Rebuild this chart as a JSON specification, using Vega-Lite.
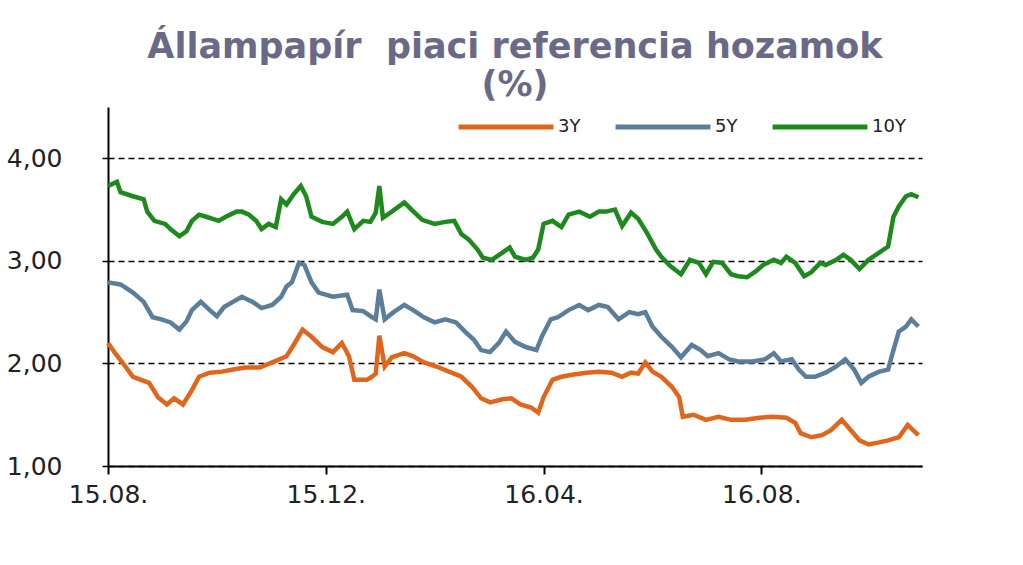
{
"$schema": "https://vega.github.io/schema/vega-lite/v6.json",
"width": 814, "height": 359,
"autosize": "none",
"padding": {"left": 108, "top": 107, "right": 101, "bottom": 99},
"background": "white",
"title": {"text": ["Állampapír\u00a0 piaci referencia hozamok", "(%)"], "font": "DejaVu Sans", "fontSize": 35, "fontWeight": "bold", "color": "#6a6a88", "anchor": "middle", "lineHeight": 38, "offset": 7, "dy": 33},
"config": {"view": {"stroke": null}},
"data": {"values": [
{"d":"2015-08-01","s":"10Y","v":3.73},{"d":"2015-08-06","s":"10Y","v":3.77},{"d":"2015-08-08","s":"10Y","v":3.67},{"d":"2015-08-15","s":"10Y","v":3.63},{"d":"2015-08-21","s":"10Y","v":3.60},{"d":"2015-08-23","s":"10Y","v":3.48},{"d":"2015-08-27","s":"10Y","v":3.39},{"d":"2015-09-02","s":"10Y","v":3.36},{"d":"2015-09-05","s":"10Y","v":3.31},{"d":"2015-09-10","s":"10Y","v":3.24},{"d":"2015-09-14","s":"10Y","v":3.29},{"d":"2015-09-17","s":"10Y","v":3.39},{"d":"2015-09-21","s":"10Y","v":3.45},{"d":"2015-09-25","s":"10Y","v":3.43},{"d":"2015-10-02","s":"10Y","v":3.39},{"d":"2015-10-06","s":"10Y","v":3.43},{"d":"2015-10-12","s":"10Y","v":3.48},{"d":"2015-10-15","s":"10Y","v":3.48},{"d":"2015-10-19","s":"10Y","v":3.45},{"d":"2015-10-23","s":"10Y","v":3.39},{"d":"2015-10-26","s":"10Y","v":3.31},{"d":"2015-10-30","s":"10Y","v":3.36},{"d":"2015-11-03","s":"10Y","v":3.33},{"d":"2015-11-06","s":"10Y","v":3.60},{"d":"2015-11-09","s":"10Y","v":3.55},{"d":"2015-11-13","s":"10Y","v":3.65},{"d":"2015-11-17","s":"10Y","v":3.73},{"d":"2015-11-20","s":"10Y","v":3.63},{"d":"2015-11-23","s":"10Y","v":3.43},{"d":"2015-11-29","s":"10Y","v":3.38},{"d":"2015-12-05","s":"10Y","v":3.36},{"d":"2015-12-10","s":"10Y","v":3.43},{"d":"2015-12-13","s":"10Y","v":3.48},{"d":"2015-12-17","s":"10Y","v":3.31},{"d":"2015-12-22","s":"10Y","v":3.39},{"d":"2015-12-26","s":"10Y","v":3.38},{"d":"2015-12-29","s":"10Y","v":3.47},{"d":"2015-12-31","s":"10Y","v":3.73},{"d":"2016-01-02","s":"10Y","v":3.42},{"d":"2016-01-07","s":"10Y","v":3.48},{"d":"2016-01-14","s":"10Y","v":3.57},{"d":"2016-01-18","s":"10Y","v":3.50},{"d":"2016-01-24","s":"10Y","v":3.40},{"d":"2016-01-31","s":"10Y","v":3.36},{"d":"2016-02-06","s":"10Y","v":3.38},{"d":"2016-02-11","s":"10Y","v":3.39},{"d":"2016-02-15","s":"10Y","v":3.26},{"d":"2016-02-19","s":"10Y","v":3.21},{"d":"2016-02-24","s":"10Y","v":3.11},{"d":"2016-02-27","s":"10Y","v":3.03},{"d":"2016-03-03","s":"10Y","v":3.01},{"d":"2016-03-09","s":"10Y","v":3.08},{"d":"2016-03-13","s":"10Y","v":3.13},{"d":"2016-03-16","s":"10Y","v":3.04},{"d":"2016-03-22","s":"10Y","v":3.01},{"d":"2016-03-26","s":"10Y","v":3.03},{"d":"2016-03-29","s":"10Y","v":3.11},{"d":"2016-04-01","s":"10Y","v":3.36},{"d":"2016-04-06","s":"10Y","v":3.39},{"d":"2016-04-11","s":"10Y","v":3.33},{"d":"2016-04-15","s":"10Y","v":3.45},{"d":"2016-04-21","s":"10Y","v":3.48},{"d":"2016-04-27","s":"10Y","v":3.43},{"d":"2016-05-02","s":"10Y","v":3.48},{"d":"2016-05-06","s":"10Y","v":3.48},{"d":"2016-05-11","s":"10Y","v":3.50},{"d":"2016-05-15","s":"10Y","v":3.34},{"d":"2016-05-20","s":"10Y","v":3.47},{"d":"2016-05-24","s":"10Y","v":3.41},{"d":"2016-05-29","s":"10Y","v":3.27},{"d":"2016-06-03","s":"10Y","v":3.11},{"d":"2016-06-06","s":"10Y","v":3.04},{"d":"2016-06-11","s":"10Y","v":2.95},{"d":"2016-06-17","s":"10Y","v":2.87},{"d":"2016-06-22","s":"10Y","v":3.01},{"d":"2016-06-27","s":"10Y","v":2.98},{"d":"2016-07-01","s":"10Y","v":2.87},{"d":"2016-07-05","s":"10Y","v":2.99},{"d":"2016-07-10","s":"10Y","v":2.98},{"d":"2016-07-15","s":"10Y","v":2.87},{"d":"2016-07-19","s":"10Y","v":2.85},{"d":"2016-07-24","s":"10Y","v":2.84},{"d":"2016-07-29","s":"10Y","v":2.90},{"d":"2016-08-02","s":"10Y","v":2.96},{"d":"2016-08-08","s":"10Y","v":3.01},{"d":"2016-08-12","s":"10Y","v":2.98},{"d":"2016-08-15","s":"10Y","v":3.04},{"d":"2016-08-20","s":"10Y","v":2.98},{"d":"2016-08-25","s":"10Y","v":2.85},{"d":"2016-08-29","s":"10Y","v":2.89},{"d":"2016-09-03","s":"10Y","v":2.98},{"d":"2016-09-06","s":"10Y","v":2.96},{"d":"2016-09-12","s":"10Y","v":3.01},{"d":"2016-09-16","s":"10Y","v":3.06},{"d":"2016-09-20","s":"10Y","v":3.01},{"d":"2016-09-25","s":"10Y","v":2.92},{"d":"2016-09-30","s":"10Y","v":3.01},{"d":"2016-10-06","s":"10Y","v":3.08},{"d":"2016-10-11","s":"10Y","v":3.14},{"d":"2016-10-14","s":"10Y","v":3.43},{"d":"2016-10-17","s":"10Y","v":3.53},{"d":"2016-10-21","s":"10Y","v":3.63},{"d":"2016-10-24","s":"10Y","v":3.65},{"d":"2016-10-28","s":"10Y","v":3.62},
{"d":"2015-08-01","s":"5Y","v":2.79},{"d":"2015-08-08","s":"5Y","v":2.77},{"d":"2015-08-15","s":"5Y","v":2.69},{"d":"2015-08-21","s":"5Y","v":2.60},{"d":"2015-08-26","s":"5Y","v":2.45},{"d":"2015-08-31","s":"5Y","v":2.43},{"d":"2015-09-05","s":"5Y","v":2.40},{"d":"2015-09-10","s":"5Y","v":2.33},{"d":"2015-09-14","s":"5Y","v":2.41},{"d":"2015-09-17","s":"5Y","v":2.52},{"d":"2015-09-22","s":"5Y","v":2.60},{"d":"2015-09-27","s":"5Y","v":2.52},{"d":"2015-10-01","s":"5Y","v":2.46},{"d":"2015-10-05","s":"5Y","v":2.55},{"d":"2015-10-10","s":"5Y","v":2.60},{"d":"2015-10-15","s":"5Y","v":2.65},{"d":"2015-10-21","s":"5Y","v":2.60},{"d":"2015-10-26","s":"5Y","v":2.54},{"d":"2015-11-01","s":"5Y","v":2.57},{"d":"2015-11-06","s":"5Y","v":2.65},{"d":"2015-11-09","s":"5Y","v":2.75},{"d":"2015-11-12","s":"5Y","v":2.79},{"d":"2015-11-16","s":"5Y","v":2.98},{"d":"2015-11-19","s":"5Y","v":2.96},{"d":"2015-11-23","s":"5Y","v":2.79},{"d":"2015-11-27","s":"5Y","v":2.69},{"d":"2015-12-05","s":"5Y","v":2.65},{"d":"2015-12-13","s":"5Y","v":2.67},{"d":"2015-12-16","s":"5Y","v":2.52},{"d":"2015-12-22","s":"5Y","v":2.51},{"d":"2015-12-27","s":"5Y","v":2.45},{"d":"2015-12-29","s":"5Y","v":2.43},{"d":"2015-12-31","s":"5Y","v":2.72},{"d":"2016-01-03","s":"5Y","v":2.43},{"d":"2016-01-08","s":"5Y","v":2.50},{"d":"2016-01-14","s":"5Y","v":2.57},{"d":"2016-01-19","s":"5Y","v":2.52},{"d":"2016-01-25","s":"5Y","v":2.45},{"d":"2016-01-31","s":"5Y","v":2.40},{"d":"2016-02-06","s":"5Y","v":2.43},{"d":"2016-02-12","s":"5Y","v":2.40},{"d":"2016-02-17","s":"5Y","v":2.31},{"d":"2016-02-22","s":"5Y","v":2.23},{"d":"2016-02-26","s":"5Y","v":2.13},{"d":"2016-03-02","s":"5Y","v":2.11},{"d":"2016-03-07","s":"5Y","v":2.20},{"d":"2016-03-11","s":"5Y","v":2.31},{"d":"2016-03-16","s":"5Y","v":2.21},{"d":"2016-03-22","s":"5Y","v":2.16},{"d":"2016-03-28","s":"5Y","v":2.13},{"d":"2016-03-31","s":"5Y","v":2.26},{"d":"2016-04-05","s":"5Y","v":2.43},{"d":"2016-04-09","s":"5Y","v":2.45},{"d":"2016-04-15","s":"5Y","v":2.52},{"d":"2016-04-21","s":"5Y","v":2.57},{"d":"2016-04-26","s":"5Y","v":2.52},{"d":"2016-05-02","s":"5Y","v":2.57},{"d":"2016-05-07","s":"5Y","v":2.55},{"d":"2016-05-13","s":"5Y","v":2.43},{"d":"2016-05-19","s":"5Y","v":2.50},{"d":"2016-05-24","s":"5Y","v":2.48},{"d":"2016-05-28","s":"5Y","v":2.50},{"d":"2016-06-01","s":"5Y","v":2.36},{"d":"2016-06-06","s":"5Y","v":2.26},{"d":"2016-06-12","s":"5Y","v":2.16},{"d":"2016-06-17","s":"5Y","v":2.06},{"d":"2016-06-23","s":"5Y","v":2.18},{"d":"2016-06-28","s":"5Y","v":2.13},{"d":"2016-07-02","s":"5Y","v":2.07},{"d":"2016-07-08","s":"5Y","v":2.10},{"d":"2016-07-14","s":"5Y","v":2.04},{"d":"2016-07-19","s":"5Y","v":2.02},{"d":"2016-07-27","s":"5Y","v":2.02},{"d":"2016-08-03","s":"5Y","v":2.04},{"d":"2016-08-08","s":"5Y","v":2.10},{"d":"2016-08-12","s":"5Y","v":2.02},{"d":"2016-08-18","s":"5Y","v":2.04},{"d":"2016-08-22","s":"5Y","v":1.94},{"d":"2016-08-26","s":"5Y","v":1.87},{"d":"2016-08-31","s":"5Y","v":1.87},{"d":"2016-09-06","s":"5Y","v":1.91},{"d":"2016-09-12","s":"5Y","v":1.97},{"d":"2016-09-17","s":"5Y","v":2.04},{"d":"2016-09-22","s":"5Y","v":1.94},{"d":"2016-09-26","s":"5Y","v":1.81},{"d":"2016-09-30","s":"5Y","v":1.87},{"d":"2016-10-06","s":"5Y","v":1.92},{"d":"2016-10-11","s":"5Y","v":1.94},{"d":"2016-10-14","s":"5Y","v":2.13},{"d":"2016-10-17","s":"5Y","v":2.31},{"d":"2016-10-21","s":"5Y","v":2.36},{"d":"2016-10-24","s":"5Y","v":2.43},{"d":"2016-10-28","s":"5Y","v":2.36},
{"d":"2015-08-01","s":"3Y","v":2.20},{"d":"2015-08-05","s":"3Y","v":2.10},{"d":"2015-08-09","s":"3Y","v":2.01},{"d":"2015-08-15","s":"3Y","v":1.87},{"d":"2015-08-24","s":"3Y","v":1.81},{"d":"2015-08-29","s":"3Y","v":1.67},{"d":"2015-09-03","s":"3Y","v":1.60},{"d":"2015-09-07","s":"3Y","v":1.66},{"d":"2015-09-12","s":"3Y","v":1.60},{"d":"2015-09-17","s":"3Y","v":1.74},{"d":"2015-09-21","s":"3Y","v":1.87},{"d":"2015-09-27","s":"3Y","v":1.91},{"d":"2015-10-04","s":"3Y","v":1.92},{"d":"2015-10-10","s":"3Y","v":1.94},{"d":"2015-10-17","s":"3Y","v":1.96},{"d":"2015-10-25","s":"3Y","v":1.96},{"d":"2015-11-01","s":"3Y","v":2.01},{"d":"2015-11-09","s":"3Y","v":2.07},{"d":"2015-11-13","s":"3Y","v":2.18},{"d":"2015-11-18","s":"3Y","v":2.33},{"d":"2015-11-23","s":"3Y","v":2.26},{"d":"2015-11-29","s":"3Y","v":2.16},{"d":"2015-12-05","s":"3Y","v":2.11},{"d":"2015-12-10","s":"3Y","v":2.20},{"d":"2015-12-14","s":"3Y","v":2.07},{"d":"2015-12-17","s":"3Y","v":1.84},{"d":"2015-12-24","s":"3Y","v":1.84},{"d":"2015-12-26","s":"3Y","v":1.86},{"d":"2015-12-29","s":"3Y","v":1.90},{"d":"2015-12-31","s":"3Y","v":2.27},{"d":"2016-01-03","s":"3Y","v":1.97},{"d":"2016-01-07","s":"3Y","v":2.06},{"d":"2016-01-14","s":"3Y","v":2.10},{"d":"2016-01-19","s":"3Y","v":2.07},{"d":"2016-01-25","s":"3Y","v":2.01},{"d":"2016-02-01","s":"3Y","v":1.97},{"d":"2016-02-08","s":"3Y","v":1.92},{"d":"2016-02-15","s":"3Y","v":1.87},{"d":"2016-02-21","s":"3Y","v":1.77},{"d":"2016-02-26","s":"3Y","v":1.66},{"d":"2016-03-02","s":"3Y","v":1.62},{"d":"2016-03-09","s":"3Y","v":1.65},{"d":"2016-03-14","s":"3Y","v":1.66},{"d":"2016-03-19","s":"3Y","v":1.60},{"d":"2016-03-25","s":"3Y","v":1.57},{"d":"2016-03-29","s":"3Y","v":1.52},{"d":"2016-04-01","s":"3Y","v":1.67},{"d":"2016-04-06","s":"3Y","v":1.84},{"d":"2016-04-11","s":"3Y","v":1.87},{"d":"2016-04-17","s":"3Y","v":1.89},{"d":"2016-04-25","s":"3Y","v":1.91},{"d":"2016-05-02","s":"3Y","v":1.92},{"d":"2016-05-09","s":"3Y","v":1.91},{"d":"2016-05-15","s":"3Y","v":1.87},{"d":"2016-05-20","s":"3Y","v":1.91},{"d":"2016-05-24","s":"3Y","v":1.90},{"d":"2016-05-28","s":"3Y","v":2.01},{"d":"2016-06-01","s":"3Y","v":1.92},{"d":"2016-06-06","s":"3Y","v":1.87},{"d":"2016-06-12","s":"3Y","v":1.77},{"d":"2016-06-16","s":"3Y","v":1.67},{"d":"2016-06-18","s":"3Y","v":1.48},{"d":"2016-06-24","s":"3Y","v":1.50},{"d":"2016-07-01","s":"3Y","v":1.45},{"d":"2016-07-08","s":"3Y","v":1.48},{"d":"2016-07-15","s":"3Y","v":1.45},{"d":"2016-07-23","s":"3Y","v":1.45},{"d":"2016-07-31","s":"3Y","v":1.47},{"d":"2016-08-07","s":"3Y","v":1.48},{"d":"2016-08-15","s":"3Y","v":1.47},{"d":"2016-08-20","s":"3Y","v":1.42},{"d":"2016-08-23","s":"3Y","v":1.32},{"d":"2016-08-29","s":"3Y","v":1.28},{"d":"2016-09-04","s":"3Y","v":1.30},{"d":"2016-09-09","s":"3Y","v":1.35},{"d":"2016-09-15","s":"3Y","v":1.45},{"d":"2016-09-20","s":"3Y","v":1.35},{"d":"2016-09-25","s":"3Y","v":1.25},{"d":"2016-09-30","s":"3Y","v":1.21},{"d":"2016-10-06","s":"3Y","v":1.23},{"d":"2016-10-11","s":"3Y","v":1.25},{"d":"2016-10-17","s":"3Y","v":1.28},{"d":"2016-10-22","s":"3Y","v":1.40},{"d":"2016-10-25","s":"3Y","v":1.35},{"d":"2016-10-28","s":"3Y","v":1.30}
]},
"mark": {"type": "line", "strokeWidth": 4.5},
"encoding": {
  "x": {"field": "d", "type": "temporal",
    "scale": {"type": "utc", "domain": [1438387200000, 1477785600000]},
    "axis": {"values": [1438387200000, 1448928000000, 1459468800000, 1470009600000], "labelExpr": "utcFormat(datum.value, '%y.%m.')", "title": null, "grid": false, "domainColor": "#000", "domainWidth": 2, "tickColor": "#000", "tickWidth": 2, "tickSize": 8, "labelFont": "DejaVu Sans", "labelFontSize": 25, "labelColor": "#222", "labelPadding": 8, "labelFlush": false, "labelOverlap": false}},
  "y": {"field": "v", "type": "quantitative",
    "scale": {"domain": [1, 4.5], "nice": false, "zero": false},
    "axis": {"values": [1, 2, 3, 4], "labelExpr": "replace(format(datum.value, '.2f'), '.', ',')", "title": null, "grid": true, "gridColor": "#000", "gridDash": [6, 4], "gridWidth": 1.3, "domainColor": "#000", "domainWidth": 2, "tickColor": "#000", "tickWidth": 1.5, "tickSize": 6, "labelFont": "DejaVu Sans", "labelFontSize": 25, "labelColor": "#222", "labelPadding": 40}},
  "color": {"field": "s", "type": "nominal",
    "scale": {"domain": ["3Y", "5Y", "10Y"], "range": ["#e0661c", "#5b7e9a", "#1e8a1e"]},
    "legend": {"orient": "none", "legendX": 348, "legendY": -30, "direction": "horizontal", "title": null, "symbolType": "stroke", "symbolSize": 9000, "symbolStrokeWidth": 5, "labelFont": "DejaVu Sans", "labelFontSize": 18, "labelOffset": 2, "columnPadding": 24, "labelColor": "#222"}}
}
}
